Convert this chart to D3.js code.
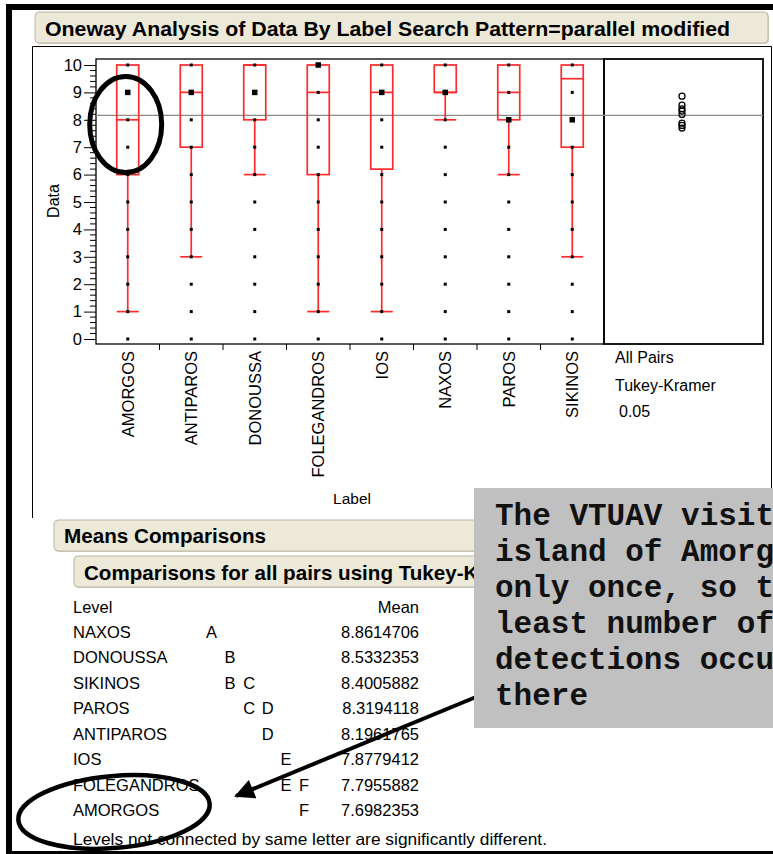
<!DOCTYPE html>
<html>
<head>
<meta charset="utf-8">
<script src="https://cdn.jsdelivr.net/npm/d3@7"></script>
<style>
  html, body { margin: 0; padding: 0; background: #fff; }
  svg { display: block; }
  text { font-family: Arial, "Liberation Sans", sans-serif; }
  text.mono { font-family: "Liberation Mono", "Courier New", "DejaVu Sans Mono", monospace; font-weight: bold; }
</style>
</head>
<body>
<svg id="chart" width="773" height="854"></svg>
<script>
// ---------- data ----------
const categories = ["AMORGOS","ANTIPAROS","DONOUSSA","FOLEGANDROS","IOS","NAXOS","PAROS","SIKINOS"];
const boxQ1      = [6, 7, 8, 6, 6.2, 9, 8, 7];
const boxMedian  = [8, 9, 10, 9, 9, 9, 9, 9.5];
const boxQ3      = [10, 10, 10, 10, 10, 10, 10, 10];
const whiskerLow = [1, 3, 6, 1, 1, 8, 6, 3];
const whiskerHigh= [10, 10, 10, 10, 10, 10, 10, 10];
const pointValues = [0,1,2,3,4,5,6,7,8,9,10];
const heavyPoint = [9, 9, 9, 10, 9, 9, 8, 8];
const grandMean = 8.16;
const yTickValues = [0,1,2,3,4,5,6,7,8,9,10];

const levelOrder   = ["NAXOS","DONOUSSA","SIKINOS","PAROS","ANTIPAROS","IOS","FOLEGANDROS","AMORGOS"];
const levelMeans   = [8.8614706, 8.5332353, 8.4005882, 8.3194118, 8.1961765, 7.8779412, 7.7955882, 7.6982353];
const levelLetters = [["A"],["B"],["B","C"],["C","D"],["D"],["E"],["E","F"],["F"]];
const letterSet    = ["A","B","C","D","E","F"];

const noteLines = ["The VTUAV visited the", "island of Amorgos", "only once, so the", "least number of", "detections occurred", "there"];

// ---------- drawing ----------
(function () {
const svg = d3.select("#chart");
const W = 773, H = 854;
svg.append("rect").attr("width", W).attr("height", H).attr("fill", "#fff");

// outer window border
svg.append("rect").attr("x", 6).attr("y", 4).attr("width", W - 6).attr("height", 6).attr("fill", "#000");
svg.append("rect").attr("x", 6).attr("y", 4).attr("width", 6).attr("height", H - 4).attr("fill", "#000");
svg.append("rect").attr("x", 6).attr("y", 851).attr("width", W - 6).attr("height", 3).attr("fill", "#000");

// header box helper
function headerBox(x, y, w, h, label, tx, ty, fs, tl) {
  svg.append("rect").attr("x", x + 1).attr("y", y + 1).attr("width", w).attr("height", h)
    .attr("rx", 4).attr("fill", "#d6d3c4");
  svg.append("rect").attr("x", x).attr("y", y).attr("width", w).attr("height", h)
    .attr("rx", 4).attr("fill", "#ECE9D8").attr("stroke", "#b9b6a6").attr("stroke-width", 1);
  const t = svg.append("text").attr("x", tx).attr("y", ty).attr("font-size", fs)
    .attr("font-weight", "bold").attr("fill", "#000").text(label);
  if (tl) t.attr("textLength", tl).attr("lengthAdjust", "spacingAndGlyphs");
}

headerBox(35, 12, 733, 31, "Oneway Analysis of Data By Label Search Pattern=parallel modified", 45, 36, 20, 685);

// plot outer frame
svg.append("path").attr("d", "M32.5,518 L32.5,46.5 L771.5,46.5 L771.5,518")
  .attr("fill", "none").attr("stroke", "#000").attr("stroke-width", 1);

const pLeft = 96, pRight = 604, panelRight = 763, pTop = 59, pBottom = 344;
const y = d3.scaleLinear().domain([0, 10]).range([339, 65]);
const x = d3.scaleBand().domain(categories).range([pLeft, pRight]).padding(0);

// plot frames
svg.append("rect").attr("x", pLeft).attr("y", pTop).attr("width", pRight - pLeft).attr("height", pBottom - pTop)
  .attr("fill", "none").attr("stroke", "#000").attr("stroke-width", 1.3);
svg.append("rect").attr("x", pRight).attr("y", pTop).attr("width", panelRight - pRight).attr("height", pBottom - pTop)
  .attr("fill", "none").attr("stroke", "#000").attr("stroke-width", 1.8);

// y axis
const yAxis = d3.axisLeft(y).tickValues(yTickValues).tickSize(12).tickPadding(2).tickFormat(d3.format("d"));
const gy = svg.append("g").attr("transform", `translate(${pLeft},0)`).call(yAxis);
gy.select(".domain").remove();
gy.selectAll("text").attr("font-size", 16.5).attr("fill", "#000");
gy.selectAll("line").attr("stroke", "#000");
const minorTicks = [];
yTickValues.slice(0, -1).forEach(v => { for (let k = 1; k < 5; k++) minorTicks.push(v + k / 5); });
svg.append("g").selectAll("line").data(minorTicks).join("line")
  .attr("x1", pLeft - 6).attr("x2", pLeft).attr("y1", d => y(d)).attr("y2", d => y(d))
  .attr("stroke", "#000").attr("stroke-width", 1);

svg.append("text").attr("transform", `translate(59,201) rotate(-90)`).attr("text-anchor", "middle")
  .attr("font-size", 16).text("Data");

// x axis ticks at band boundaries
const boundaries = categories.slice(1).map(c => x(c));
svg.append("g").selectAll("line").data(boundaries).join("line")
  .attr("x1", d => d).attr("x2", d => d).attr("y1", pBottom).attr("y2", pBottom + 6)
  .attr("stroke", "#000").attr("stroke-width", 1);
svg.append("g").selectAll("text").data(categories).join("text")
  .attr("transform", d => `translate(${x(d) + x.bandwidth() / 2 + 6},351) rotate(-90)`)
  .attr("text-anchor", "end").attr("font-size", 16.5).text(d => d);
svg.append("text").attr("x", 352).attr("y", 504).attr("text-anchor", "middle").attr("font-size", 15.5).text("Label");

// right panel labels
svg.append("text").attr("x", 615).attr("y", 363).attr("font-size", 16).text("All Pairs");
svg.append("text").attr("x", 615).attr("y", 391).attr("font-size", 16).text("Tukey-Kramer");
svg.append("text").attr("x", 619).attr("y", 417).attr("font-size", 16).text("0.05");

// grand mean line
svg.append("line").attr("x1", pLeft).attr("x2", panelRight).attr("y1", y(grandMean)).attr("y2", y(grandMean))
  .attr("stroke", "#8c8c8c").attr("stroke-width", 1.3);

// boxes
const red = "#ff2a2a";
const bw = 22;
const bx = svg.append("g");
categories.forEach((c, i) => {
  const cx = x(c) + x.bandwidth() / 2;
  const g = bx.append("g").attr("stroke", red).attr("stroke-width", 1.7).attr("fill", "none");
  g.append("line").attr("x1", cx).attr("x2", cx).attr("y1", y(boxQ1[i])).attr("y2", y(whiskerLow[i]));
  g.append("line").attr("x1", cx - bw / 2).attr("x2", cx + bw / 2).attr("y1", y(whiskerLow[i])).attr("y2", y(whiskerLow[i]));
  g.append("line").attr("x1", cx).attr("x2", cx).attr("y1", y(boxQ3[i])).attr("y2", y(whiskerHigh[i]));
  g.append("rect").attr("x", cx - bw / 2).attr("y", y(boxQ3[i])).attr("width", bw).attr("height", y(boxQ1[i]) - y(boxQ3[i]));
  g.append("line").attr("x1", cx - bw / 2).attr("x2", cx + bw / 2).attr("y1", y(boxMedian[i])).attr("y2", y(boxMedian[i]));
});

// points
const pts = svg.append("g");
categories.forEach((c, i) => {
  const cx = x(c) + x.bandwidth() / 2;
  pointValues.forEach(v => {
    const s = (v === heavyPoint[i]) ? 5.5 : 3;
    pts.append("rect").attr("x", cx - s / 2).attr("y", y(v) - s / 2).attr("width", s).attr("height", s).attr("fill", "#000");
  });
});

// comparison circles
svg.append("g").selectAll("circle").data(levelMeans).join("circle")
  .attr("cx", 682).attr("cy", d => y(d)).attr("r", 3)
  .attr("fill", "none").attr("stroke", "#000").attr("stroke-width", 1.3);

// highlight ellipse on plot
svg.append("ellipse").attr("cx", 125.7).attr("cy", 124.5).attr("rx", 36).attr("ry", 48)
  .attr("fill", "none").attr("stroke", "#000").attr("stroke-width", 5);

// means comparisons section
headerBox(54, 520, 740, 31, "Means Comparisons", 64, 543, 19.5, 202);
headerBox(74, 556, 720, 31, "Comparisons for all pairs using Tukey-Kramer HSD", 84, 580, 20.6, null);

const rowY = d3.scalePoint().domain(levelOrder).range([638, 816]);
const letterX = d3.scalePoint().domain(letterSet).range([206, 299]);
const fsT = 16.5;
svg.append("text").attr("x", 73).attr("y", 613).attr("font-size", fsT).text("Level");
svg.append("text").attr("x", 419).attr("y", 613).attr("font-size", fsT).attr("text-anchor", "end").text("Mean");
const rows = svg.append("g").selectAll("g").data(levelOrder).join("g");
rows.append("text").attr("x", 73).attr("y", d => rowY(d)).attr("font-size", fsT).text(d => d);
rows.append("text").attr("x", 419).attr("y", d => rowY(d)).attr("font-size", fsT).attr("text-anchor", "end")
  .text((d, i) => levelMeans[i].toFixed(7));
rows.each(function (d, i) {
  d3.select(this).selectAll("text.l").data(levelLetters[i]).join("text").attr("class", "l")
    .attr("x", L => letterX(L)).attr("y", rowY(d)).attr("font-size", fsT).text(L => L);
});
svg.append("text").attr("x", 73).attr("y", 845).attr("font-size", fsT)
  .attr("textLength", 474).attr("lengthAdjust", "spacingAndGlyphs")
  .text("Levels not connected by same letter are significantly different.");

// bottom ellipse
svg.append("ellipse").attr("cx", 114).attr("cy", 812).attr("rx", 96).attr("ry", 36)
  .attr("transform", "rotate(-5,114,812)")
  .attr("fill", "none").attr("stroke", "#000").attr("stroke-width", 4.5);

// arrow
svg.append("defs").append("marker").attr("id", "ah").attr("viewBox", "0 0 10 10")
  .attr("refX", 9).attr("refY", 5).attr("markerWidth", 6).attr("markerHeight", 5)
  .attr("markerUnits", "strokeWidth").attr("orient", "auto")
  .append("path").attr("d", "M0,0 L10,5 L0,10 z").attr("fill", "#000");
svg.append("line").attr("x1", 476).attr("y1", 697).attr("x2", 236).attr("y2", 796)
  .attr("stroke", "#000").attr("stroke-width", 4).attr("marker-end", "url(#ah)");

// annotation box
svg.append("rect").attr("x", 474).attr("y", 488).attr("width", W - 474).attr("height", 240).attr("fill", "#c0c0c0");
svg.append("g").selectAll("text").data(noteLines).join("text")
  .attr("class", "mono")
  .attr("x", 495).attr("y", (d, i) => 525 + i * 36)
  .attr("font-size", 31).attr("fill", "#111").text(d => d);
})();
</script>
</body>
</html>
